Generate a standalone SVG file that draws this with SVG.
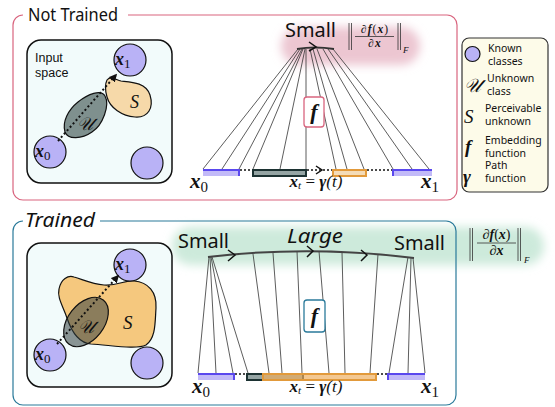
<svg xmlns="http://www.w3.org/2000/svg" width="555" height="407" viewBox="0 0 555 407">
<defs>
<filter id="blur" x="-20%" y="-50%" width="140%" height="200%"><feGaussianBlur stdDeviation="5"/></filter>
<marker id="ah" viewBox="0 0 10 10" refX="8" refY="5" markerWidth="4" markerHeight="4" orient="auto"><path d="M0,0 L10,5 L0,10 Z" fill="#111"/></marker>
<style>
.sans{font-family:"Noto Sans","Open Sans","DejaVu Sans",sans-serif;fill:#111}
.lsans{font-family:"Liberation Sans","Noto Sans",sans-serif;fill:#111}
.m{font-family:"Liberation Serif","DejaVu Serif",serif;fill:#111}
.bi{font-weight:bold;font-style:italic}
.it{font-style:italic}
.box{fill:#f2fbfb;stroke:#111;stroke-width:1.5}
.known{fill:#b9b2f6;stroke:#111;stroke-width:1.2}
.fan{stroke:#333;stroke-width:0.8;fill:none}
.dot{stroke:#111;stroke-width:2;stroke-dasharray:2 2.5;fill:none}
.bar{stroke:#111;stroke-width:1.3;stroke-dasharray:2 2;fill:none}
.blue{fill:#c2baf8}
.blueedge{fill:none;stroke:#5a48ee;stroke-width:2}
.grayseg{fill:#95a5a4;stroke:#1c3232;stroke-width:2}
.arrow{fill:none;stroke:#111;stroke-width:1.5}
.leg{font-size:10.5px}
</style>
</defs>

<!-- glows -->
<rect x="281" y="27" width="139" height="38" rx="19" fill="#ecc6d1" filter="url(#blur)"/>
<rect x="172" y="227" width="372" height="38" rx="19" fill="#cdeadb" filter="url(#blur)"/>

<!-- Panel frames -->
<g id="panel-not-trained">
<path d="M128,15 H447 A10,10 0 0 1 457,25 V190 A10,10 0 0 1 447,200 H23 A10,10 0 0 1 13,190 V25 A10,10 0 0 1 23,15" fill="none" stroke="#d9657f" stroke-width="1.2"/>
<text class="sans" x="28" y="21" font-size="18" textLength="90" lengthAdjust="spacingAndGlyphs">Not Trained</text>
</g>
<g id="panel-trained">
<path d="M100,221 H446 A10,10 0 0 1 456,231 V395 A10,10 0 0 1 446,405 H23 A10,10 0 0 1 13,395 V231 A10,10 0 0 1 23,221" fill="none" stroke="#2a7a9a" stroke-width="1.2"/>
<text class="sans it" x="25" y="227" font-size="19" textLength="70" lengthAdjust="spacingAndGlyphs">Trained</text>
</g>

<!-- Top input space -->
<g id="input-space-top">
<rect class="box" x="27" y="40" width="145" height="143" rx="14"/>
<text class="lsans" font-size="12.5"><tspan x="35" y="62">Input</tspan><tspan x="35" y="76.5">space</tspan></text>
<path d="M107,80 C111,75 116,80 121,81 C130,82 146,82 150,95 C154,108 148,118 135,117 C122,116 110,108 107,97 C105,90 105,84 107,80 Z" fill="#f6d9a9" stroke="#111" stroke-width="1.2"/>
<path d="M105,96 C110,105 103,125 92,132 C82,139 68,140 65,132 C62,122 68,110 78,102 C88,94 101,89 105,96 Z" fill="#7f908e" stroke="#111" stroke-width="1.2"/>
<text class="m it" x="130" y="108" font-size="18">S</text>
<text class="m it" x="77" y="130" font-size="18">𝒰</text>
<circle class="known" cx="130" cy="60" r="16"/>
<circle class="known" cx="50" cy="152" r="16"/>
<circle class="known" cx="147" cy="163" r="16"/>
<path class="dot" d="M58,141 L116,75" marker-end="url(#ah)"/>
<text class="m bi" x="115" y="65" font-size="18">x<tspan font-size="13" font-weight="normal" font-style="normal" dy="3">1</tspan></text>
<text class="m bi" x="35" y="157" font-size="18">x<tspan font-size="13" font-weight="normal" font-style="normal" dy="3">0</tspan></text>
</g>

<!-- Bottom input space -->
<g id="input-space-bottom">
<rect class="box" x="27" y="243" width="145" height="144" rx="14"/>
<path d="M59,289 C61,279 68,275 74,277 C84,280 92,284 104,285 C118,286 124,280 134,281 C148,282 157,292 156,308 C155,322 156,338 146,345 C136,350 110,345 91,344 C78,343 71,330 67,318 C63,306 57,298 59,289 Z" fill="#f5c87e" stroke="#111" stroke-width="1.2"/>
<ellipse cx="86" cy="322" rx="28" ry="18" transform="rotate(-52 86 322)" fill="#33403f" fill-opacity="0.55" stroke="#111" stroke-width="1.2"/>
<text class="m it" x="123" y="329" font-size="19">S</text>
<text class="m it" x="78" y="333" font-size="18">𝒰</text>
<circle class="known" cx="130" cy="265" r="16"/>
<circle class="known" cx="50" cy="355" r="16"/>
<circle class="known" cx="147" cy="363" r="16"/>
<path class="dot" d="M57,344 L118,276" marker-end="url(#ah)"/>
<text class="m bi" x="115" y="270" font-size="18">x<tspan font-size="13" font-weight="normal" font-style="normal" dy="3">1</tspan></text>
<text class="m bi" x="35" y="360" font-size="18">x<tspan font-size="13" font-weight="normal" font-style="normal" dy="3">0</tspan></text>
</g>

<!-- Connectors: fan lines -->
<g id="connectors">
<g id="fan-top">
<line class="fan" x1="203" y1="169" x2="298" y2="49"/>
<line class="fan" x1="222" y1="169" x2="300" y2="49"/>
<line class="fan" x1="239" y1="169" x2="302" y2="49"/>
<line class="fan" x1="253" y1="169" x2="303" y2="49"/>
<line class="fan" x1="280" y1="169" x2="305" y2="49"/>
<line class="fan" x1="306" y1="169" x2="306" y2="49"/>
<line class="fan" x1="336" y1="169" x2="310" y2="49"/>
<line class="fan" x1="347" y1="169" x2="313" y2="49"/>
<line class="fan" x1="364" y1="169" x2="317" y2="49"/>
<line class="fan" x1="393" y1="169" x2="323" y2="49"/>
<line class="fan" x1="412" y1="169" x2="328" y2="49"/>
<line class="fan" x1="429" y1="169" x2="333" y2="49"/>
<path d="M297,49 Q315,46 334,49" fill="none" stroke="#333" stroke-width="1.8"/>
<polyline class="arrow" points="309,42 316,47 309,51"/>
</g>
<g id="fan-bottom">
<line class="fan" x1="198" y1="373" x2="209" y2="257"/>
<line class="fan" x1="216" y1="373" x2="210" y2="257"/>
<line class="fan" x1="233" y1="373" x2="211" y2="257"/>
<line class="fan" x1="248" y1="373" x2="212" y2="257"/>
<line class="fan" x1="269" y1="373" x2="253" y2="254"/>
<line class="fan" x1="282" y1="373" x2="273" y2="253"/>
<line class="fan" x1="302" y1="373" x2="297" y2="251"/>
<line class="fan" x1="329" y1="373" x2="319" y2="251"/>
<line class="fan" x1="345" y1="373" x2="342" y2="252"/>
<line class="fan" x1="370" y1="373" x2="378" y2="254"/>
<line class="fan" x1="389" y1="373" x2="408" y2="257"/>
<line class="fan" x1="408" y1="373" x2="411" y2="258"/>
<line class="fan" x1="425" y1="373" x2="413" y2="258"/>
<path d="M208,257 Q310,245 414,258" fill="none" stroke="#444" stroke-width="2"/>
<polyline class="arrow" points="228,250 235,255 228,261"/>
<polyline class="arrow" points="307,246 313,251 307,257"/>
<polyline class="arrow" points="361,250 367,255 361,261"/>
</g>
</g>

<!-- Top bar -->
<g id="bar-top">
<rect class="blue" x="203" y="169" width="36" height="7"/>
<path class="blueedge" d="M203,170 H239 V176"/>
<line class="bar" x1="240" y1="170" x2="253" y2="170"/>
<rect class="grayseg" x="253" y="170" width="53" height="6"/>
<line class="bar" x1="307" y1="170" x2="333" y2="170"/>
<polyline class="arrow" points="316,166 322,170 316,174"/>
<rect x="333" y="170" width="33" height="6" fill="#f4dcb8" stroke="#e29a3b" stroke-width="2"/>
<line class="bar" x1="367" y1="170" x2="393" y2="170"/>
<rect class="blue" x="393" y="169" width="39" height="7"/>
<path class="blueedge" d="M393,176 V170 H432"/>
<text class="m bi" x="190" y="188" font-size="21">x<tspan font-size="15" font-weight="normal" font-style="normal" dy="4">0</tspan></text>
<text class="m bi" x="421" y="188" font-size="21">x<tspan font-size="15" font-weight="normal" font-style="normal" dy="4">1</tspan></text>
<text class="m" x="316" y="187" font-size="17" text-anchor="middle"><tspan class="bi">x</tspan><tspan class="it" font-size="11" dy="2">t</tspan><tspan dy="-2"> = </tspan><tspan class="bi">γ</tspan><tspan class="it">(t)</tspan></text>
</g>

<!-- Bottom bar -->
<g id="bar-bottom">
<rect class="blue" x="198" y="373" width="36" height="7"/>
<path class="blueedge" d="M198,374 H234 V380"/>
<line class="bar" x1="235" y1="374" x2="247" y2="374"/>
<rect class="grayseg" x="247" y="374" width="56" height="6"/>
<rect x="263" y="374" width="113" height="6" fill="#eeae5e" fill-opacity="0.68" stroke="#e29a3b" stroke-width="2"/>
<line class="bar" x1="377" y1="374" x2="388" y2="374"/>
<rect class="blue" x="388" y="373" width="37" height="7"/>
<path class="blueedge" d="M388,380 V374 H425"/>
<text class="m bi" x="192" y="393" font-size="21">x<tspan font-size="15" font-weight="normal" font-style="normal" dy="4">0</tspan></text>
<text class="m bi" x="421" y="393" font-size="21">x<tspan font-size="15" font-weight="normal" font-style="normal" dy="4">1</tspan></text>
<text class="m" x="316" y="392" font-size="17" text-anchor="middle"><tspan class="bi">x</tspan><tspan class="it" font-size="11" dy="2">t</tspan><tspan dy="-2"> = </tspan><tspan class="bi">γ</tspan><tspan class="it">(t)</tspan></text>
</g>

<!-- f boxes -->
<g id="f-top">
<rect x="304" y="97" width="20" height="30" rx="3" fill="#fff" stroke="#d9657f" stroke-width="1.3"/>
<text class="m bi" x="314" y="119" font-size="22" text-anchor="middle">f</text>
</g>
<g id="f-bottom">
<rect x="304" y="300" width="21" height="32" rx="3" fill="#fff" stroke="#2a7a9a" stroke-width="1.3"/>
<text class="m bi" x="314.5" y="323" font-size="22" text-anchor="middle">f</text>
</g>

<!-- Labels top -->
<g id="labels-top">
<text class="sans" x="285" y="37" font-size="19" textLength="51" lengthAdjust="spacingAndGlyphs">Small</text>
<g stroke="#333" stroke-width="0.8">
<line x1="349" y1="23" x2="349" y2="50"/><line x1="351.5" y1="23" x2="351.5" y2="50"/>
<line x1="398" y1="23" x2="398" y2="50"/><line x1="400.5" y1="23" x2="400.5" y2="50"/>
<line x1="355" y1="36.5" x2="394" y2="36.5"/>
</g>
<text class="m" font-size="11.5" letter-spacing="1"><tspan x="375" y="32.5" text-anchor="middle">∂<tspan class="bi">f</tspan>(<tspan class="bi">x</tspan>)</tspan><tspan x="375" y="46.5" text-anchor="middle">∂<tspan class="bi">x</tspan></tspan></text>
<text class="m it" x="403" y="53" font-size="9">F</text>
</g>

<!-- Labels bottom -->
<g id="labels-bottom">
<text class="sans" x="178" y="248" font-size="19" textLength="51" lengthAdjust="spacingAndGlyphs">Small</text>
<text class="sans it" x="287" y="243" font-size="19" textLength="56" lengthAdjust="spacingAndGlyphs">Large</text>
<text class="sans" x="394" y="250" font-size="19" textLength="51" lengthAdjust="spacingAndGlyphs">Small</text>
<g stroke="#333" stroke-width="0.8">
<line x1="470" y1="228" x2="470" y2="261"/><line x1="472.5" y1="228" x2="472.5" y2="261"/>
<line x1="518" y1="228" x2="518" y2="261"/><line x1="520.5" y1="228" x2="520.5" y2="261"/>
<line x1="477" y1="243" x2="516" y2="243"/>
</g>
<text class="m" font-size="14"><tspan x="496.5" y="239" text-anchor="middle">∂<tspan class="bi">f</tspan>(<tspan class="bi">x</tspan>)</tspan><tspan x="496.5" y="255" text-anchor="middle">∂<tspan class="bi">x</tspan></tspan></text>
<text class="m it" x="524" y="263" font-size="9">F</text>
</g>

<!-- Legend -->
<g id="legend">
<rect x="462" y="38" width="86" height="154" rx="7" fill="#fdfbe9" stroke="#333" stroke-width="1.2"/>
<circle class="known" cx="472.5" cy="54" r="7.5"/>
<text class="sans leg"><tspan x="488" y="52">Known</tspan><tspan x="488" y="64.5">classes</tspan></text>
<text class="m it" x="464" y="92" font-size="19">𝒰</text>
<text class="sans leg"><tspan x="487" y="82">Unknown</tspan><tspan x="487" y="94.5">class</tspan></text>
<text class="m it" x="464" y="123" font-size="19">S</text>
<text class="sans leg"><tspan x="485" y="112">Perceivable</tspan><tspan x="485" y="124.5">unknown</tspan></text>
<text class="m bi" x="465" y="153" font-size="19">f</text>
<text class="sans leg"><tspan x="485" y="144">Embedding</tspan><tspan x="485" y="156.5">function</tspan></text>
<text class="m bi" x="463" y="183" font-size="19">γ</text>
<text class="sans leg"><tspan x="485" y="169">Path</tspan><tspan x="485" y="181.5">function</tspan></text>
</g>
</svg>
